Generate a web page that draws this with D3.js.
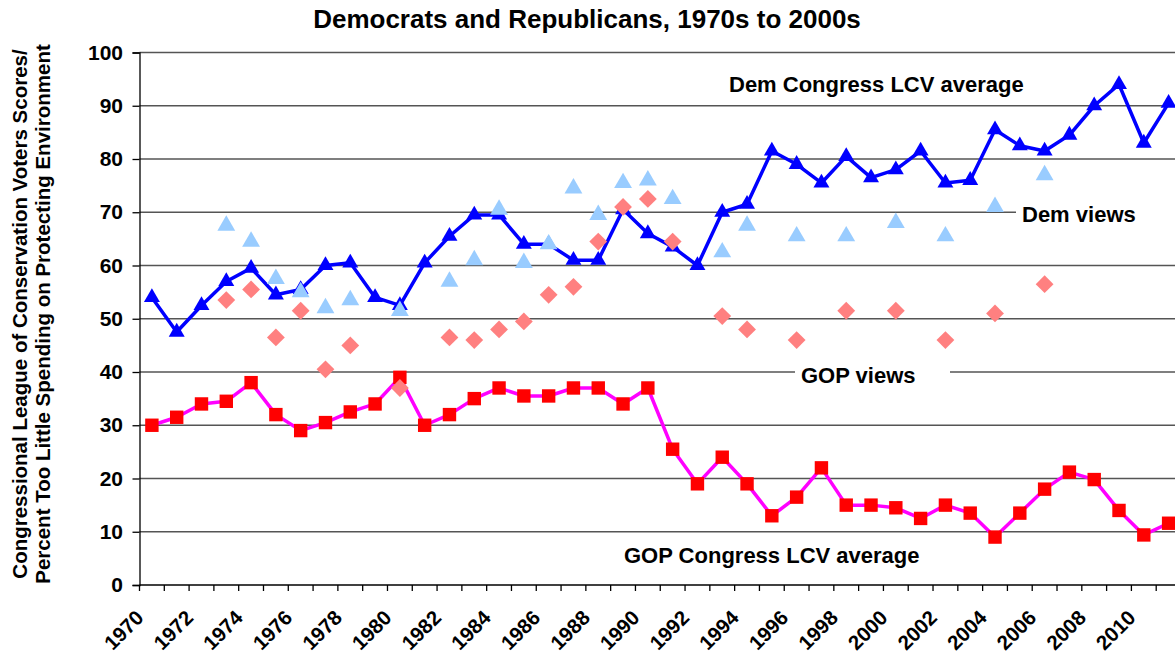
<!DOCTYPE html>
<html>
<head>
  <meta charset="UTF-8">
  <style>
    body {
      margin: 0;
      padding: 0;
      background: #fff;
      font-family: Arial, "Liberation Sans", sans-serif;
    }
    svg text {
      font-weight: bold;
      fill: #000;
    }
  </style>
</head>
<body>
  <svg width="1175" height="656"></svg>
  <script src="https://d3js.org/d3.v7.min.js"></script>
  <script>
    const width = 1175, height = 656;

    // one entry per year, 1970..2011
    const years = d3.range(1970, 2012).map(String);

    const demCongress = [54, 47.5, 52.5, 57, 59.5, 54.5, 55.5, 60, 60.5, 54,
      52.5, 60.5, 65.5, 69.5, 69.5, 64, 64, 61, 61, 70.5,
      66, 63.5, 60, 70, 71.5, 81.5, 79, 75.5, 80.5, 76.5,
      78, 81.5, 75.5, 76, 85.5, 82.5, 81.5, 84.5, 90, 94,
      83, 90.5];

    const gopCongress = [30, 31.5, 34, 34.5, 38, 32, 29, 30.5, 32.5, 34,
      39, 30, 32, 35, 37, 35.5, 35.5, 37, 37, 34,
      37, 25.5, 19, 24, 19, 13, 16.5, 22, 15, 15,
      14.5, 12.5, 15, 13.5, 9, 13.5, 18, 21.2, 19.8, 14,
      9.4, 11.6];

    // survey years only
    const viewYears = ["1973", "1974", "1975", "1976", "1977", "1978", "1980", "1982", "1983", "1984",
      "1985", "1986", "1987", "1988", "1989", "1990", "1991", "1993", "1994", "1996",
      "1998", "2000", "2002", "2004", "2006"];
    const demViews = [67.5, 64.5, 57.5, 55, 52, 53.5, 51.5, 57, 61, 70.5,
      60.5, 64, 74.5, 69.5, 75.5, 76, 72.5, 62.5, 67.5, 65.5,
      65.5, 68, 65.5, 71, 77];
    const gopViews = [53.5, 55.5, 46.5, 51.5, 40.5, 45, 37, 46.5, 46, 48,
      49.5, 54.5, 56, 64.5, 71, 72.5, 64.5, 50.5, 48, 46,
      51.5, 51.5, 46, 51, 56.5];

    const yTicks = d3.range(0, 101, 10);
    const xLabels = years.filter((d, i) => i % 2 === 0 && +d <= 2010);

    const plotLeft = 139.5, plotRight = 1181, plotTop = 52.5, plotBottom = 585;

    const svg = d3.select("svg");

    const x = d3.scaleBand().domain(years).range([plotLeft, plotRight]).padding(0);
    const y = d3.scaleLinear().domain([0, 100]).range([plotBottom, plotTop]);
    const cx = d => x(d) + x.bandwidth() / 2;

    // title
    svg.append("text")
      .attr("x", 587)
      .attr("y", 28)
      .attr("text-anchor", "middle")
      .style("font-size", "26px")
      .text("Democrats and Republicans, 1970s to 2000s");

    // gridlines
    svg.append("g")
      .selectAll("line")
      .data(yTicks.filter(d => d > 0))
      .enter()
      .append("line")
      .attr("x1", plotLeft)
      .attr("x2", width)
      .attr("y1", d => y(d))
      .attr("y2", d => y(d))
      .attr("stroke", "#555")
      .attr("stroke-width", 1.3);

    // y axis
    const yAxis = svg.append("g")
      .attr("transform", `translate(${plotLeft},0)`)
      .call(d3.axisLeft(y).tickValues(yTicks).tickSize(7).tickPadding(9.5));
    yAxis.select(".domain").attr("stroke", "#000").attr("stroke-width", 1.3);
    yAxis.selectAll(".tick line").attr("stroke", "#000").attr("stroke-width", 1.3);
    yAxis.selectAll("text")
      .style("font-size", "21px")
      .style("font-family", "Arial, 'Liberation Sans', sans-serif");

    // x axis
    svg.append("line")
      .attr("x1", plotLeft)
      .attr("x2", width)
      .attr("y1", plotBottom)
      .attr("y2", plotBottom)
      .attr("stroke", "#000")
      .attr("stroke-width", 1.3);
    svg.append("g")
      .selectAll("line")
      .data(years)
      .enter()
      .append("line")
      .attr("x1", d => x(d))
      .attr("x2", d => x(d))
      .attr("y1", plotBottom)
      .attr("y2", plotBottom + 6)
      .attr("stroke", "#000")
      .attr("stroke-width", 1.3);

    const xAxis = svg.append("g")
      .attr("transform", `translate(0,${plotBottom})`)
      .call(d3.axisBottom(x).tickValues(xLabels).tickSize(0).tickPadding(0));
    xAxis.select(".domain").remove();
    xAxis.selectAll("text")
      .style("font-size", "20.5px")
      .style("font-family", "Arial, 'Liberation Sans', sans-serif")
      .attr("text-anchor", "end")
      .attr("dy", null)
      .attr("y", 0)
      .attr("transform", "translate(-7,34) rotate(-45)");

    // y axis title
    const yTitle = svg.append("text")
      .attr("transform", "translate(27,314) rotate(-90)")
      .attr("text-anchor", "middle")
      .style("font-size", "20.5px");
    yTitle.append("tspan").attr("x", 0).attr("y", 0)
      .text("Congressional League of Conservation Voters Scores/");
    yTitle.append("tspan").attr("x", 0).attr("y", 23)
      .text("Percent Too Little Spending on Protecting Environment");

    // series labels with white boxes that break the gridlines
    const labels = [
      { t: "Dem Congress LCV average", x: 729, y: 92, bx: 723, bw: 327 },
      { t: "Dem views", x: 1022, y: 222, bx: 1016, bw: 170 },
      { t: "GOP views", x: 801, y: 383, bx: 795, bw: 155 },
      { t: "GOP Congress LCV average", x: 624, y: 563, bx: 618, bw: 310 }
    ];
    labels.forEach(l => {
      svg.append("rect")
        .attr("x", l.bx).attr("y", l.y - 24)
        .attr("width", l.bw).attr("height", 32)
        .attr("fill", "#fff");
      svg.append("text")
        .attr("x", l.x).attr("y", l.y)
        .style("font-size", "22px")
        .text(l.t);
    });

    // lines
    const line = d3.line()
      .x((d, i) => cx(years[i]))
      .y(d => y(d));

    svg.append("path")
      .datum(demCongress)
      .attr("d", line)
      .attr("fill", "none")
      .attr("stroke", "#0000FF")
      .attr("stroke-width", 3.5)
      .attr("stroke-linejoin", "round");

    svg.append("path")
      .datum(gopCongress)
      .attr("d", line)
      .attr("fill", "none")
      .attr("stroke", "#FF00FF")
      .attr("stroke-width", 3.5)
      .attr("stroke-linejoin", "round");

    svg.append("g")
      .selectAll("path")
      .data(demCongress)
      .enter()
      .append("path")
      .attr("d", d3.symbol().type(d3.symbolTriangle).size(110)())
      .attr("transform", (d, i) => `translate(${cx(years[i])},${y(d)})`)
      .attr("fill", "#0000FF");

    svg.append("g")
      .selectAll("rect")
      .data(gopCongress)
      .enter()
      .append("rect")
      .attr("x", (d, i) => cx(years[i]) - 6.7)
      .attr("y", d => y(d) - 6.7)
      .attr("width", 13.4)
      .attr("height", 13.4)
      .attr("fill", "#FF0000");

    svg.append("g")
      .selectAll("path")
      .data(demViews)
      .enter()
      .append("path")
      .attr("d", d3.symbol().type(d3.symbolTriangle).size(138)())
      .attr("transform", (d, i) => `translate(${cx(viewYears[i])},${y(d)})`)
      .attr("fill", "#99CCFF");

    svg.append("g")
      .selectAll("rect")
      .data(gopViews)
      .enter()
      .append("rect")
      .attr("x", -6.3)
      .attr("y", -6.3)
      .attr("width", 12.6)
      .attr("height", 12.6)
      .attr("transform", (d, i) => `translate(${cx(viewYears[i])},${y(d)}) rotate(45)`)
      .attr("fill", "#FF8080");
  </script>
</body>
</html>
